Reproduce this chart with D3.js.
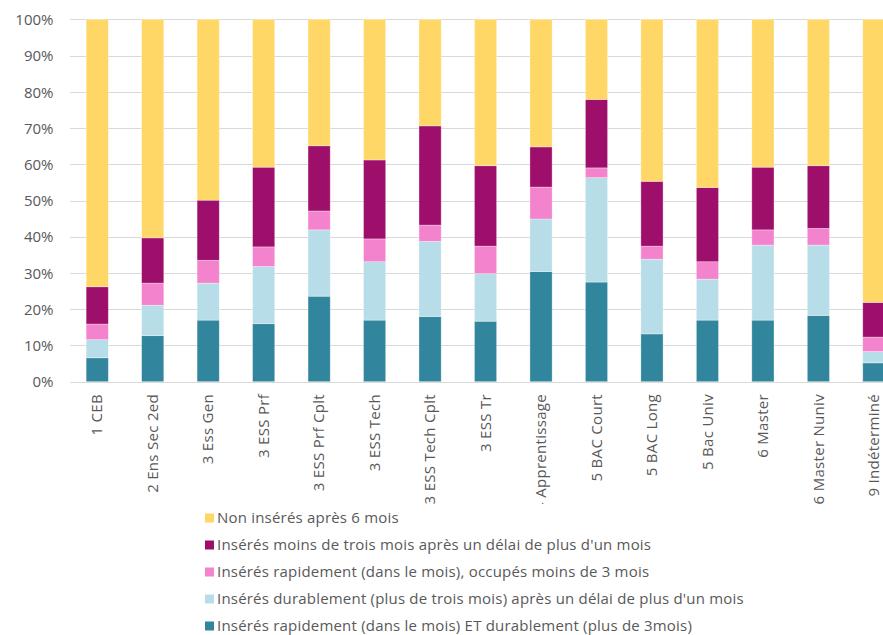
<!DOCTYPE html>
<html>
<head>
<meta charset="utf-8">
<script src="https://cdn.jsdelivr.net/npm/d3@7"></script>
<style>
  html, body { margin: 0; padding: 0; background: #fff; }
  svg { display: block; }
</style>
</head>
<body>
<svg id="chart" width="883" height="635"></svg>
<script>
// Training levels (x axis)
const categories = [
  "1 CEB", "2 Ens Sec 2ed", "3 Ess Gen", "3 ESS Prf", "3 ESS Prf Cplt",
  "3 ESS Tech", "3 ESS Tech Cplt", "3 ESS Tr", "4 Apprentissage",
  "5 BAC Court", "5 BAC Long", "5 Bac Univ", "6 Master", "6 Master Nuniv",
  "9 Indéterminé"
];

// Shares per category (%), stacked from the bottom
const rapideDurable   = [6.6, 12.7, 17.0, 16.0, 23.6, 17.0, 18.0, 16.7, 30.4, 27.5, 13.2, 17.0, 17.0, 18.3, 5.2];
const durableApresDelai = [5.0, 8.4, 10.2, 15.8, 18.3, 16.1, 20.7, 13.1, 14.5, 28.8, 20.6, 11.3, 20.7, 19.4, 3.1];
const rapideCourt     = [4.3, 6.1, 6.3, 5.4, 5.2, 6.3, 4.5, 7.6, 8.8, 2.7, 3.6, 4.8, 4.2, 4.6, 4.0];
const courtApresDelai = [10.3, 12.5, 16.6, 22.0, 18.0, 21.8, 27.4, 22.2, 11.1, 18.9, 17.9, 20.5, 17.3, 17.3, 9.6];
const nonInseres      = [73.8, 60.3, 49.9, 40.8, 34.9, 38.8, 29.4, 40.4, 35.2, 22.1, 44.7, 46.4, 40.8, 40.4, 78.1];

const seriesNames = [
  "Insérés rapidement (dans le mois) ET durablement (plus de 3mois)",
  "Insérés durablement (plus de trois mois) après un délai de plus d'un mois",
  "Insérés rapidement (dans le mois), occupés moins de 3 mois",
  "Insérés moins de trois mois après un délai de plus d'un mois",
  "Non insérés après 6 mois"
];
const seriesValues = [rapideDurable, durableApresDelai, rapideCourt, courtApresDelai, nonInseres];
const seriesColors = ["#31859C", "#B7DDE8", "#F383CD", "#9E0F6C", "#FFD766"];

const yTicks = [0, 10, 20, 30, 40, 50, 60, 70, 80, 90, 100];

const FONT = "'Open Sans', 'Liberation Sans', sans-serif";
const TEXT_COLOR = "#595959";

// Table for d3.stack
const rows = categories.map((c, i) => {
  const r = { cat: c };
  seriesNames.forEach((s, k) => { r[s] = seriesValues[k][i]; });
  return r;
});
const stacked = d3.stack().keys(seriesNames)(rows);

const svg = d3.select("#chart");

const x = d3.scaleBand().domain(categories).range([69.5, 901.6]).paddingInner(0.6).paddingOuter(0.3);
const y = d3.scaleLinear().domain([0, 100]).range([381.7, 19.3]);

// Gridlines
svg.append("g")
  .selectAll("line")
  .data(yTicks)
  .join("line")
  .attr("x1", 70).attr("x2", 883)
  .attr("y1", d => Math.round(y(d)) + 0.5)
  .attr("y2", d => Math.round(y(d)) + 0.5)
  .attr("stroke", "#D9D9D9")
  .attr("stroke-width", 1);

// Y axis labels
const yAxis = d3.axisLeft(y).tickValues(yTicks).tickFormat(d => d + "%").tickSize(0).tickPadding(0);
const yg = svg.append("g").attr("transform", "translate(53.5,0)").call(yAxis)
  .attr("font-family", FONT).attr("font-size", 15);
yg.select(".domain").remove();
yg.selectAll("text")
  .attr("fill", TEXT_COLOR)
  .attr("dy", "0.35em");

// Stacked bars
svg.append("g")
  .selectAll("g")
  .data(stacked)
  .join("g")
  .attr("fill", (d, i) => seriesColors[i])
  .selectAll("rect")
  .data(d => d)
  .join("rect")
  .attr("x", d => x(d.data.cat))
  .attr("width", x.bandwidth())
  .attr("y", d => y(d[1]))
  .attr("height", d => y(d[0]) - y(d[1]))
  .attr("stroke", "#ffffff")
  .attr("stroke-opacity", 0.45)
  .attr("stroke-width", 0.75);

// X axis labels (rotated, clipped above the legend)
svg.append("defs").append("clipPath").attr("id", "xlab-clip")
  .append("rect").attr("x", 0).attr("y", 385).attr("width", 883).attr("height", 119);

const xAxis = d3.axisBottom(x).tickSize(0).tickPadding(0);
const xg = svg.append("g")
  .attr("clip-path", "url(#xlab-clip)")
  .append("g")
  .attr("transform", "translate(0,394)")
  .call(xAxis)
  .attr("font-family", FONT).attr("font-size", 15)
  .attr("letter-spacing", 0.3);
xg.select(".domain").remove();
xg.selectAll("text")
  .attr("fill", TEXT_COLOR)
  .attr("transform", "rotate(-90)")
  .attr("text-anchor", "end")
  .attr("x", 0)
  .attr("y", 0)
  .attr("dy", "0.35em");

// Legend (top to bottom: last series first)
const legendOrder = [4, 3, 2, 1, 0];
const lg = svg.append("g").attr("transform", "translate(205,518)")
  .attr("font-family", FONT).attr("font-size", 15)
  .attr("letter-spacing", 0.2);
const items = lg.selectAll("g")
  .data(legendOrder)
  .join("g")
  .attr("transform", (d, i) => `translate(0,${i * 27})`);
items.append("rect")
  .attr("x", 0).attr("y", -4.5)
  .attr("width", 9).attr("height", 9)
  .attr("fill", d => seriesColors[d]);
items.append("text")
  .attr("x", 12).attr("y", 0)
  .attr("dy", "0.35em")
  .attr("fill", TEXT_COLOR)
  .text(d => seriesNames[d]);
</script>
</body>
</html>
